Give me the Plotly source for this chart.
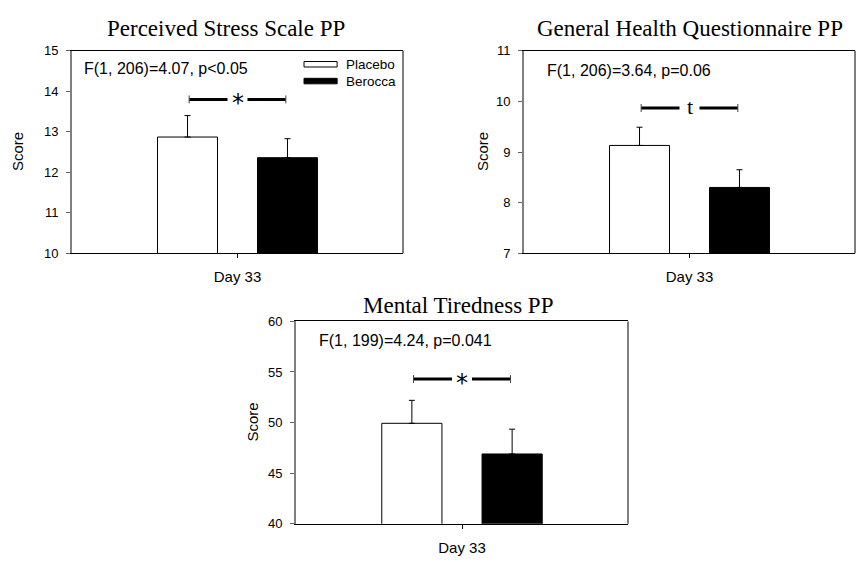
import plotly.graph_objects as go

# ---------------- data ----------------
categories = ["Day 33"]
titles = ["Perceived Stress Scale PP", "General Health Questionnaire PP", "Mental Tiredness PP"]
placebo_means = [12.87, 9.13, 49.93]
placebo_err = [0.53, 0.36, 2.27]
berocca_means = [12.36, 8.30, 46.90]
berocca_err = [0.47, 0.35, 2.45]
y_ranges = [[10, 15], [7, 11], [40, 60]]
y_dticks = [1, 1, 5]
stats_text = ["F(1, 206)=4.07, p<0.05", "F(1, 206)=3.64, p=0.06", "F(1, 199)=4.24, p=0.041"]
sig_labels = ["*", "t", "*"]
bracket_y = [13.8, 9.87, 54.3]
series_names = ["Placebo", "Berocca"]

W, H = 856, 562
# plot areas in window pixels (left, right, top, bottom)
areas = [(72, 403, 45, 253), (524, 855, 45, 253), (296, 628, 323, 531)]
title_shift = [(-12, 8), (0, 8), (-4, 1)]
stats_shift = [(10, -18), (21, -20), (21, -19)]
score_shift = [-55, -42, -43]

fig = go.Figure()
layout = dict(
    width=W, height=H, margin=dict(l=0, r=0, t=0, b=0),
    paper_bgcolor="white", plot_bgcolor="white",
    barmode="group", bargap=0.396, bargroupgap=0.4,
    showlegend=False,
    font=dict(family="Liberation Sans, Arial", size=13, color="black"),
)
shapes = []
annotations = []

for i in range(3):
    l, r, t, b = areas[i]
    xa = "x" if i == 0 else f"x{i+1}"
    ya = "y" if i == 0 else f"y{i+1}"
    xkey = "xaxis" if i == 0 else f"xaxis{i+1}"
    ykey = "yaxis" if i == 0 else f"yaxis{i+1}"
    fig.add_trace(go.Bar(
        x=categories, y=[placebo_means[i]], name=series_names[0],
        marker=dict(color="white", line=dict(color="black", width=1)),
        error_y=dict(type="data", array=[placebo_err[i]], arrayminus=[0], symmetric=False,
                     color="black", thickness=1, width=3),
        xaxis=xa, yaxis=ya))
    fig.add_trace(go.Bar(
        x=categories, y=[berocca_means[i]], name=series_names[1],
        marker=dict(color="black", line=dict(color="black", width=1)),
        error_y=dict(type="data", array=[berocca_err[i]], arrayminus=[0], symmetric=False,
                     color="black", thickness=1, width=3),
        xaxis=xa, yaxis=ya))
    layout[xkey] = dict(
        domain=[l / W, r / W], anchor=ya, type="category",
        range=[-0.5, 0.5], showline=True, linecolor="black", linewidth=1, mirror=True,
        ticks="outside", ticklen=4, tickcolor="black", showgrid=False, zeroline=False,
        tickfont=dict(size=15), ticklabelstandoff=6, fixedrange=True)
    layout[ykey] = dict(
        domain=[1 - b / H, 1 - t / H], anchor=xa,
        range=y_ranges[i], dtick=y_dticks[i], showline=True, linecolor="#808080", linewidth=2,
        ticks="outside", ticklen=4, tickcolor="#606060", showgrid=False, zeroline=False,
        tickfont=dict(size=13), ticklabelstandoff=5, fixedrange=True)
    annotations.append(dict(text="Score", xref=f"{xa} domain", yref=f"{ya} domain",
                            x=0, y=0.5, xanchor="center", yanchor="middle",
                            xshift=score_shift[i], textangle=-90,
                            showarrow=False, font=dict(size=15)))
    shapes.append(dict(type="line", xref=f"{xa} domain", yref=f"{ya} domain",
                       x0=1, x1=1, y0=0, y1=1, line=dict(color="#555555", width=1.5)))
    annotations.append(dict(text=titles[i], xref=f"{xa} domain", yref=f"{ya} domain",
                            x=0.5, y=1, xanchor="center", yanchor="bottom",
                            xshift=title_shift[i][0], yshift=title_shift[i][1], showarrow=False,
                            font=dict(family="Liberation Serif, Times New Roman", size=23)))
    annotations.append(dict(text=stats_text[i], xref=f"{xa} domain", yref=f"{ya} domain",
                            x=0, y=1, xanchor="left", yanchor="middle",
                            xshift=stats_shift[i][0], yshift=stats_shift[i][1],
                            showarrow=False, font=dict(size=16)))
    shapes.append(dict(type="line", xref=xa, yref=ya, x0=-0.146, x1=0.146,
                       y0=bracket_y[i], y1=bracket_y[i], line=dict(color="black", width=3)))
    for xe in (-0.146, 0.146):
        shapes.append(dict(type="line", xref=xa, yref=ya, x0=xe, x1=xe,
                           ysizemode="pixel", yanchor=bracket_y[i], y0=-4, y1=4,
                           line=dict(color="#444444", width=1)))
    shapes.append(dict(type="rect", xref=xa, yref=ya, xsizemode="pixel", ysizemode="pixel",
                       xanchor=0, yanchor=bracket_y[i], x0=-10, x1=10, y0=-3, y1=3,
                       fillcolor="white", line=dict(width=0)))
    if sig_labels[i] == "*":
        annotations.append(dict(text=sig_labels[i], xref=xa, yref=ya, x=0, y=bracket_y[i],
                                showarrow=False, yanchor="middle", yshift=-4,
                                font=dict(family="DejaVu Sans", size=24)))
    else:
        annotations.append(dict(text=sig_labels[i], xref=xa, yref=ya, x=0, y=bracket_y[i],
                                showarrow=False, yanchor="middle", yshift=1,
                                font=dict(family="Liberation Serif, Times New Roman", size=22)))

legend_items = list(zip(series_names, ["white", "black"]))
for k, (name, col) in enumerate(legend_items):
    y0 = 0.920 - k * 0.083
    shapes.append(dict(type="rect", xref="x domain", yref="y domain", x0=0.701, x1=0.801,
                       y0=y0, y1=y0 + 0.027, fillcolor=col, line=dict(color="black", width=1)))
    annotations.append(dict(text=name, xref="x domain", yref="y domain", x=0.822, y=y0 + 0.0135,
                            xanchor="left", yanchor="middle", showarrow=False,
                            font=dict(size=13.5)))

layout["shapes"] = shapes
layout["annotations"] = annotations
fig.update_layout(**layout)
fig.write_html("out.html", config={"displayModeBar": False},
               post_script=["document.body.style.margin='0';document.body.style.overflow='hidden';"])
